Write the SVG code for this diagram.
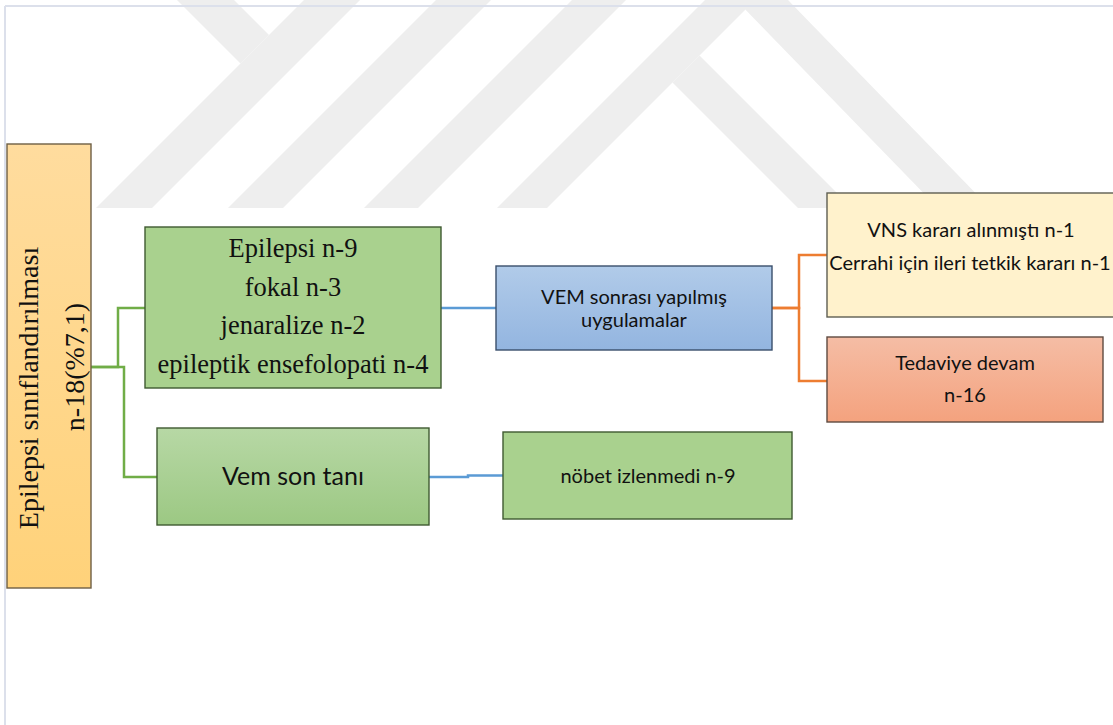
<svg xmlns="http://www.w3.org/2000/svg" width="1113" height="725" viewBox="0 0 1113 725">
<defs>
<linearGradient id="gOrange" x1="0" y1="0" x2="0" y2="1"><stop offset="0" stop-color="#FFDC9E"/><stop offset="1" stop-color="#FFD27A"/></linearGradient>
<linearGradient id="gBlue" x1="0" y1="0" x2="0" y2="1"><stop offset="0" stop-color="#B1CBE9"/><stop offset="1" stop-color="#93B5E0"/></linearGradient>
<linearGradient id="gGreen" x1="0" y1="0" x2="0" y2="1"><stop offset="0" stop-color="#B7D8A5"/><stop offset="1" stop-color="#9CC883"/></linearGradient>
<linearGradient id="gRed" x1="0" y1="0" x2="0" y2="1"><stop offset="0" stop-color="#F5BDA5"/><stop offset="1" stop-color="#F4A27E"/></linearGradient>
</defs>
<style>
.wm{fill:#EEEEEE}
.box{stroke-width:1.4}
.serif{font-family:"Liberation Serif","Times New Roman",serif;fill:#111}
.sans{font-family:Lato,"Open Sans",sans-serif;fill:#111}
.cg{fill:none;stroke:#70AD47;stroke-width:2.5}
.cb{fill:none;stroke:#5B9BD5;stroke-width:2.5}
.co{fill:none;stroke:#ED7D31;stroke-width:2.5}
</style>
<rect x="0" y="0" width="1113" height="725" fill="#FFFFFF"/>
<g id="watermark">
<polygon class="wm" points="304,0 360,0 152,208 96,208"/>
<polygon class="wm" points="177,0 234,0 269,35 240.5,63.5"/>
<polygon class="wm" points="436,0 491,0 283,208 228,208"/>
<polygon class="wm" points="572,0 626,0 418,208 364,208"/>
<polygon class="wm" points="705,0 755,0 547,208 497,208"/>
<polygon class="wm" points="699.5,55.5 852,208 798,208 672.5,82.5"/>
<polygon class="wm" points="736,0 788,0 990,208 938,208"/>
</g>
<g id="page-border" fill="none" stroke="#DCE0EB" stroke-width="2">
<line x1="5" y1="6" x2="1113" y2="6"/>
<line x1="5" y1="6" x2="5" y2="725"/>
</g>
<g id="connectors">
<path class="cg" d="M91,367 H118 V308 H145"/>
<path class="cg" d="M91,367 H124 V477 H157"/>
<path class="cb" d="M441,308 H496"/>
<path class="cb" d="M429,477 H468 V475.5 H503"/>
<path class="co" d="M772,308 H799 V255 H827"/>
<path class="co" d="M772,308 H799 V381 H827"/>
</g>
<g id="node-root">
<rect class="box" x="7" y="144" width="84" height="444" fill="url(#gOrange)" stroke="#6E5F45"/>
<text class="serif" font-size="28" text-anchor="middle" transform="translate(38,388) rotate(-90)">Epilepsi sınıflandırılması</text>
<text class="serif" font-size="28" text-anchor="middle" transform="translate(84,367) rotate(-90)">n-18(%7,1)</text>
</g>
<g id="node-epilepsi">
<rect class="box" x="145" y="227" width="296" height="161" fill="#A9D18E" stroke="#3F5A31"/>
<text class="serif" font-size="26.5" text-anchor="middle" x="293" y="257">Epilepsi n-9</text>
<text class="serif" font-size="26.5" text-anchor="middle" x="293" y="295.5">fokal n-3</text>
<text class="serif" font-size="26.5" text-anchor="middle" x="293" y="334">jenaralize n-2</text>
<text class="serif" font-size="26.5" text-anchor="middle" x="293" y="372.5">epileptik ensefolopati n-4</text>
</g>
<g id="node-vem-son-tani">
<rect class="box" x="157" y="428" width="272" height="97" fill="url(#gGreen)" stroke="#3F5A31"/>
<text class="sans" font-size="25" text-anchor="middle" x="293" y="485">Vem son tanı</text>
</g>
<g id="node-vem-sonrasi">
<rect class="box" x="496" y="266" width="276" height="84" fill="url(#gBlue)" stroke="#3A4F6B"/>
<text class="sans" font-size="20" text-anchor="middle" x="634" y="304">VEM sonrası yapılmış</text>
<text class="sans" font-size="20" text-anchor="middle" x="634" y="327">uygulamalar</text>
</g>
<g id="node-nobet">
<rect class="box" x="503" y="432" width="289" height="87" fill="#A9D18E" stroke="#3F5A31"/>
<text class="sans" font-size="20" text-anchor="middle" x="648" y="483">nöbet izlenmedi n-9</text>
</g>
<g id="node-vns">
<rect class="box" x="827" y="193" width="288" height="124" fill="#FFF2CC" stroke="#5E5E52"/>
<text class="sans" font-size="20" text-anchor="middle" x="971" y="237">VNS kararı alınmıştı n-1</text>
<text class="sans" font-size="20" text-anchor="middle" x="970" y="270">Cerrahi için ileri tetkik kararı n-1</text>
</g>
<g id="node-tedavi">
<rect class="box" x="827" y="337" width="276" height="85" fill="url(#gRed)" stroke="#5E4A40"/>
<text class="sans" font-size="20" text-anchor="middle" x="965" y="370">Tedaviye devam</text>
<text class="sans" font-size="20" text-anchor="middle" x="965" y="402">n-16</text>
</g>
</svg>
